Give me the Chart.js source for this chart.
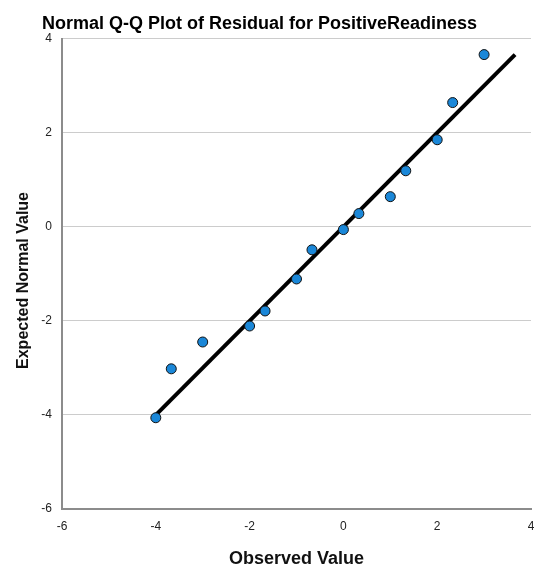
<!DOCTYPE html>
<html>
<head>
<meta charset="utf-8">
<title>Normal Q-Q Plot</title>
<script src="https://cdn.jsdelivr.net/npm/chart.js@4"></script>
<style>
  html, body { margin: 0; padding: 0; background: #fff; }
  #qqChart { display: block; }
</style>
</head>
<body>
<canvas id="qqChart" width="534" height="570"></canvas>
<script>
// values
const observedValues = [-4, -3.67, -3, -2, -1.67, -1, -0.67, 0, 0.33, 1, 1.33, 2, 2.33, 3];
const expectedValues = [-4.06, -3.02, -2.45, -2.11, -1.79, -1.11, -0.49, -0.06, 0.28, 0.64, 1.19, 1.85, 2.64, 3.66];
const refLineX = [-4.04, 3.66];
const refLineY = [-4.04, 3.66];
const axisMin = -6;
const axisMax = 4;
const tickStep = 2;

const FONT = "Arial, 'Liberation Sans', sans-serif";

const qqPoints = observedValues.map((x, i) => ({ x: x, y: expectedValues[i] }));
const linePoints = refLineX.map((x, i) => ({ x: x, y: refLineY[i] }));

const ctx = document.getElementById("qqChart").getContext("2d");
const qqChart = new Chart(ctx, {
  type: "scatter",
  data: {
    datasets: [
      {
        label: "Residual",
        data: qqPoints,
        backgroundColor: "#1a87d8",
        borderColor: "#111",
        borderWidth: 1,
        pointRadius: 5,
        pointHoverRadius: 5,
      },
      {
        type: "line",
        label: "Reference",
        data: linePoints,
        borderColor: "#000",
        borderWidth: 4,
        pointRadius: 0,
        fill: false,
      },
    ],
  },
  options: {
    responsive: false,
    animation: false,
    // no auto padding, the plot runs right up to the canvas edge
    layout: { autoPadding: false, padding: 0 },
    plugins: {
      legend: { display: false },
      tooltip: { enabled: false },
      title: {
        display: true,
        // trailing spaces nudge the centred title a little to the left, as in the original
        text: "Normal Q-Q Plot of Residual for PositiveReadiness   ",
        color: "#000",
        font: { family: FONT, size: 18, weight: "bold" },
        padding: { top: 13, bottom: 4 },
      },
    },
    scales: {
      x: {
        type: "linear",
        min: axisMin,
        max: axisMax,
        afterFit: (scale) => {
          scale.height = 61;
          scale.paddingLeft = 0;
          scale.paddingRight = 3;
        },
        ticks: {
          stepSize: tickStep,
          padding: 10,
          color: "#222",
          font: { family: FONT, size: 12 },
        },
        grid: { display: false, drawTicks: false },
        border: { display: true, color: "#8c8c8c", width: 2 },
        title: {
          display: true,
          text: "Observed Value",
          color: "#111",
          font: { family: FONT, size: 18, weight: "bold" },
          padding: { top: 0, bottom: 0 },
        },
      },
      y: {
        type: "linear",
        min: axisMin,
        max: axisMax,
        afterFit: (scale) => { scale.width = 62; },
        ticks: {
          stepSize: tickStep,
          padding: 10,
          color: "#222",
          font: { family: FONT, size: 12 },
        },
        grid: { color: "#cccccc", lineWidth: 1, drawTicks: false },
        border: { display: true, color: "#8c8c8c", width: 2 },
        title: {
          display: true,
          text: "Expected Normal Value   ",
          color: "#111",
          font: { family: FONT, size: 16, weight: "bold" },
          padding: { top: 14, bottom: 0 },
        },
      },
    },
  },
});
</script>
</body>
</html>
